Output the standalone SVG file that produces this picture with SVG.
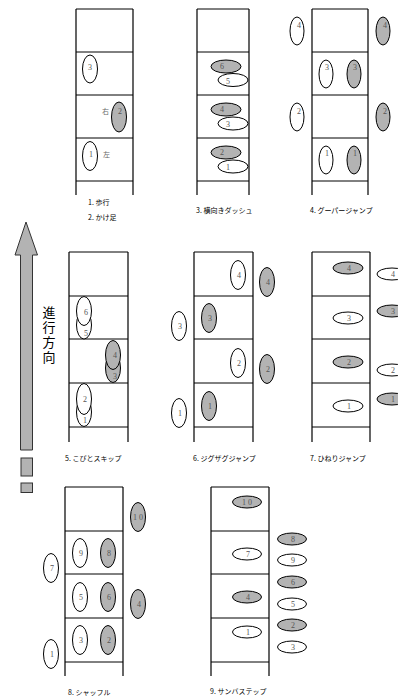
<svg xmlns="http://www.w3.org/2000/svg" width="398" height="698" viewBox="0 0 398 698">
<style>
.rail{stroke:#000;stroke-width:1.2;fill:none}
.rung{stroke:#000;stroke-width:1;fill:none}
.w{fill:#fff;stroke:#000;stroke-width:1}
.g{fill:#b3b3b3;stroke:#000;stroke-width:1}
.n{font-family:"Liberation Serif",serif;font-size:8px;fill:#555;text-anchor:middle;dominant-baseline:central}
.cap{font-family:"Noto Sans CJK JP",sans-serif;font-size:7px;fill:#000}
.lr{font-family:"Noto Sans CJK JP",sans-serif;font-size:7px;fill:#666;dominant-baseline:central}
.v{font-family:"Noto Sans CJK JP",sans-serif;font-size:13px;fill:#000;writing-mode:tb;letter-spacing:2px}
</style>
<rect width="398" height="698" fill="#fff"/>

<g id="arrow">
<polygon points="26,222 37.5,255 32.5,255 32.5,450 20.5,450 20.5,255 15,255" fill="#b3b3b3" stroke="#333" stroke-width="1"/>
<rect x="21" y="458" width="11.5" height="18" fill="#b3b3b3" stroke="#333" stroke-width="1"/>
<rect x="21" y="483" width="11.5" height="9.5" fill="#b3b3b3" stroke="#333" stroke-width="1"/>
<text class="v" x="49" y="306">進行方向</text>
</g>

<g id="ladder1">
<path class="rail" d="M76,9V195M133,9V195"/>
<path class="rung" d="M76,9H133M76,52H133M76,95H133M76,138H133M76,181H133"/>
<ellipse class="w" cx="90" cy="69" rx="7.5" ry="14"/><text class="n" x="90" y="67">3</text>
<ellipse class="g" cx="119" cy="117" rx="7.5" ry="15"/><text class="n" x="120" y="111">2</text>
<text class="lr" x="102" y="111">右</text>
<ellipse class="w" cx="90" cy="156" rx="7.5" ry="14.5"/><text class="n" x="91" y="154">1</text>
<text class="lr" x="103" y="154">左</text>
<text class="cap" x="88" y="205">1. 歩行</text>
<text class="cap" x="88" y="220">2. かけ足</text>
</g>

<g id="ladder3">
<path class="rail" d="M197,9V195M249,9V195"/>
<path class="rung" d="M197,9H249M197,52H249M197,95H249M197,138H249M197,181H249"/>
<ellipse class="g" cx="226" cy="66.5" rx="15" ry="6.5"/><text class="n" x="222" y="66">6</text>
<ellipse class="w" cx="233" cy="80" rx="15" ry="6.5"/><text class="n" x="228" y="81">5</text>
<ellipse class="g" cx="226" cy="109.5" rx="15" ry="6.5"/><text class="n" x="222" y="109">4</text>
<ellipse class="w" cx="233" cy="123.5" rx="15" ry="6.5"/><text class="n" x="228" y="124">3</text>
<ellipse class="g" cx="226" cy="152.5" rx="15" ry="6.5"/><text class="n" x="222" y="152">2</text>
<ellipse class="w" cx="233" cy="166.5" rx="15" ry="6.5"/><text class="n" x="228" y="167">1</text>
<text class="cap" x="196" y="213">3. 横向きダッシュ</text>
</g>

<g id="ladder4">
<path class="rail" d="M312,9V195M368,9V195"/>
<path class="rung" d="M312,9H368M312,52H368M312,95H368M312,138H368M312,181H368"/>
<ellipse class="w" cx="297" cy="31" rx="7" ry="14"/><text class="n" x="299" y="25">4</text>
<ellipse class="g" cx="383" cy="31" rx="7" ry="14"/><text class="n" x="385" y="25">4</text>
<ellipse class="w" cx="326" cy="74" rx="7" ry="14"/><text class="n" x="327" y="67">3</text>
<ellipse class="g" cx="354" cy="74" rx="7" ry="14"/><text class="n" x="355" y="67">3</text>
<ellipse class="w" cx="297" cy="117" rx="7" ry="14"/><text class="n" x="299" y="111">2</text>
<ellipse class="g" cx="383" cy="117" rx="7" ry="14"/><text class="n" x="385" y="111">2</text>
<ellipse class="w" cx="326" cy="160" rx="7" ry="14"/><text class="n" x="327" y="153">1</text>
<ellipse class="g" cx="354" cy="160" rx="7" ry="14"/><text class="n" x="355" y="153">1</text>
<text class="cap" x="310" y="213">4. グーパージャンプ</text>
</g>

<g id="ladder5">
<path class="rail" d="M69,252V442M128,252V442"/>
<path class="rung" d="M69,252H128M69,296H128M69,339H128M69,383H128M69,427H128"/>
<ellipse class="w" cx="84" cy="325" rx="7.5" ry="14"/>
<ellipse class="w" cx="84" cy="311" rx="7.5" ry="14.5"/>
<text class="n" x="86" y="312">6</text><text class="n" x="86" y="333">5</text>
<ellipse class="g" cx="113" cy="368" rx="7.5" ry="14.5"/>
<ellipse class="g" cx="113" cy="355" rx="7.5" ry="14.5"/>
<text class="n" x="115" y="355">4</text><text class="n" x="115" y="376">3</text>
<ellipse class="w" cx="84" cy="412" rx="7.5" ry="14.5"/>
<ellipse class="w" cx="84" cy="399" rx="7.5" ry="15.5"/>
<text class="n" x="85" y="399">2</text><text class="n" x="85" y="420">1</text>
<text class="cap" x="65" y="461">5. こびとスキップ</text>
</g>

<g id="ladder6">
<path class="rail" d="M194,252V442M253,252V442"/>
<path class="rung" d="M194,252H253M194,296H253M194,339H253M194,383H253M194,427H253"/>
<ellipse class="w" cx="238" cy="275" rx="7.5" ry="14.5"/><text class="n" x="239" y="275">4</text>
<ellipse class="g" cx="267" cy="282" rx="7.5" ry="14.5"/><text class="n" x="268" y="282">4</text>
<ellipse class="g" cx="209" cy="318" rx="7.5" ry="14.5"/><text class="n" x="210" y="318">3</text>
<ellipse class="w" cx="179" cy="326" rx="7.5" ry="14.5"/><text class="n" x="180" y="326">3</text>
<ellipse class="w" cx="238" cy="363" rx="7.5" ry="14.5"/><text class="n" x="239" y="363">2</text>
<ellipse class="g" cx="267" cy="369" rx="7.5" ry="14.5"/><text class="n" x="268" y="369">2</text>
<ellipse class="g" cx="209" cy="406" rx="7.5" ry="14.5"/><text class="n" x="210" y="406">1</text>
<ellipse class="w" cx="179" cy="413" rx="7.5" ry="14.5"/><text class="n" x="180" y="413">1</text>
<text class="cap" x="193" y="461">6. ジグザグジャンプ</text>
</g>

<g id="ladder7">
<path class="rail" d="M312,252V442M370,252V442"/>
<path class="rung" d="M312,252H370M312,296H370M312,339H370M312,383H370M312,427H370"/>
<ellipse class="g" cx="348" cy="268" rx="15" ry="6"/><text class="n" x="349" y="268">4</text>
<ellipse class="w" cx="348" cy="318" rx="15" ry="6"/><text class="n" x="349" y="318">3</text>
<ellipse class="g" cx="348" cy="362" rx="15" ry="6"/><text class="n" x="349" y="362">2</text>
<ellipse class="w" cx="348" cy="406" rx="15" ry="6"/><text class="n" x="349" y="406">1</text>
<ellipse class="w" cx="392" cy="274" rx="15" ry="6"/><text class="n" x="393" y="274">4</text>
<ellipse class="g" cx="392" cy="311" rx="15" ry="6"/><text class="n" x="393" y="311">3</text>
<ellipse class="w" cx="392" cy="370" rx="15" ry="6"/><text class="n" x="393" y="370">2</text>
<ellipse class="g" cx="392" cy="399" rx="15" ry="6"/><text class="n" x="393" y="399">1</text>
<text class="cap" x="310" y="461">7. ひねりジャンプ</text>
</g>

<g id="ladder8">
<path class="rail" d="M65,487V676M123,487V676"/>
<path class="rung" d="M65,487H123M65,531H123M65,574H123M65,618H123M65,662H123"/>
<ellipse class="g" cx="138" cy="517" rx="7.5" ry="14.5"/><text class="n" x="138" y="517">1 0</text>
<ellipse class="w" cx="80" cy="553" rx="7.5" ry="14.5"/><text class="n" x="81" y="553">9</text>
<ellipse class="g" cx="108" cy="553" rx="7.5" ry="14.5"/><text class="n" x="109" y="553">8</text>
<ellipse class="w" cx="51" cy="568" rx="7.5" ry="14.5"/><text class="n" x="52" y="568">7</text>
<ellipse class="w" cx="80" cy="597" rx="7.5" ry="14.5"/><text class="n" x="81" y="597">5</text>
<ellipse class="g" cx="108" cy="597" rx="7.5" ry="14.5"/><text class="n" x="109" y="597">6</text>
<ellipse class="g" cx="138" cy="604" rx="7.5" ry="14.5"/><text class="n" x="139" y="604">4</text>
<ellipse class="w" cx="80" cy="640" rx="7.5" ry="14.5"/><text class="n" x="81" y="640">3</text>
<ellipse class="g" cx="108" cy="640" rx="7.5" ry="14.5"/><text class="n" x="109" y="640">2</text>
<ellipse class="w" cx="51" cy="654" rx="7.5" ry="14.5"/><text class="n" x="52" y="654">1</text>
<text class="cap" x="68" y="695">8. シャッフル</text>
</g>

<g id="ladder9">
<path class="rail" d="M211,487V676M269,487V676"/>
<path class="rung" d="M211,487H269M211,531H269M211,574H269M211,618H269M211,662H269"/>
<ellipse class="g" cx="247" cy="502" rx="14.5" ry="6"/><text class="n" x="247" y="502">1 0</text>
<ellipse class="w" cx="247" cy="554" rx="14.5" ry="6"/><text class="n" x="248" y="554">7</text>
<ellipse class="g" cx="247" cy="597" rx="14.5" ry="6"/><text class="n" x="248" y="597">4</text>
<ellipse class="w" cx="247" cy="632" rx="14.5" ry="6"/><text class="n" x="248" y="632">1</text>
<ellipse class="g" cx="292" cy="539" rx="14.5" ry="6"/><text class="n" x="293" y="539">8</text>
<ellipse class="w" cx="292" cy="560" rx="14.5" ry="6"/><text class="n" x="293" y="560">9</text>
<ellipse class="g" cx="292" cy="582" rx="14.5" ry="6"/><text class="n" x="293" y="582">6</text>
<ellipse class="w" cx="292" cy="604" rx="14.5" ry="6"/><text class="n" x="293" y="604">5</text>
<ellipse class="g" cx="292" cy="625" rx="14.5" ry="6"/><text class="n" x="293" y="625">2</text>
<ellipse class="w" cx="292" cy="647" rx="14.5" ry="6"/><text class="n" x="293" y="647">3</text>
<text class="cap" x="210" y="694">9. サンバステップ</text>
</g>
</svg>
